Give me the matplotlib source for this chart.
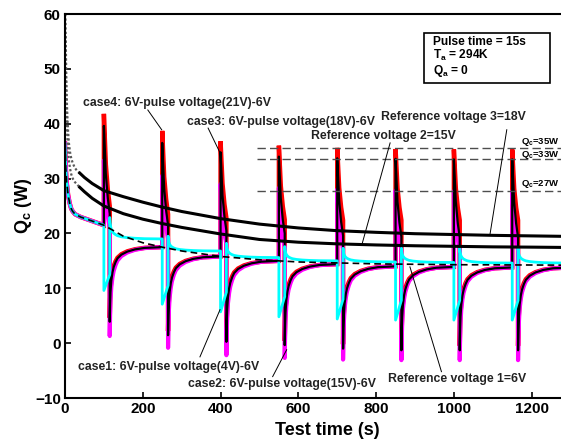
import numpy as np
import matplotlib.pyplot as plt
from matplotlib.patches import Rectangle

plt.rcParams['font.family'] = ['Liberation Sans', 'DejaVu Sans']
plt.rcParams['font.weight'] = 'bold'
plt.rcParams['mathtext.fontset'] = 'custom'
plt.rcParams['mathtext.rm'] = 'Liberation Sans:bold'
plt.rcParams['mathtext.it'] = 'Liberation Sans:bold'
plt.rcParams['mathtext.bf'] = 'Liberation Sans:bold'

# ---- data ----
pulse_t = [100, 250, 400, 550, 700, 850, 1000, 1150]
pulse_len = 15
t_end = 1350

# reference voltage 3 = 18V (upper black) and 2 = 15V (lower black)
ref_t = [1, 2, 3, 4, 5, 6, 8, 10, 13, 16, 20, 25, 30, 38, 50, 70, 100, 150, 200,
         250, 300, 400, 500, 600, 700, 800, 900, 1000, 1100, 1200, 1350]
ref3_q = [60, 55, 50, 46.5, 43.5, 41.5, 38.5, 36.5, 34.8, 33.7, 32.8, 32.0, 31.5, 31.0,
          30.2, 29.1, 27.8, 26.7, 25.7, 24.8, 24.0, 22.7, 21.7, 21.0, 20.5, 20.2, 19.95,
          19.8, 19.65, 19.55, 19.4]
ref2_q = [56, 50, 45, 42, 39.5, 37.5, 35, 33.3, 31.8, 30.8, 30.0, 29.4, 29.0, 28.4,
          27.6, 26.4, 25.0, 23.6, 22.6, 21.8, 21.1, 19.9, 18.9, 18.4, 18.1, 17.9, 17.75,
          17.65, 17.55, 17.5, 17.4]

# reference voltage 1 = 6V (dashed)
ref1_t = [0, 2, 4, 8, 12, 16, 20, 26, 40, 64, 100, 150, 200, 250, 300, 400, 500,
          600, 800, 1000, 1350]
ref1_q = [36.4, 32, 29.5, 27, 25.5, 24.5, 24, 23.5, 23, 22.4, 21.5, 19.5, 18.3, 17.5,
          16.8, 15.8, 15.2, 14.8, 14.45, 14.3, 14.2]

# before the first pulse every case follows the 6V curve
init_t = [0, 2, 4, 8, 12, 16, 20, 26, 40, 64, 100]
init_q = [36.4, 32, 29.5, 27, 25.5, 24.5, 24, 23.5, 23, 22.4, 21.5]

# level the cases settle to after each pulse
level_up = [17.5, 15.8, 15.0, 14.4, 14.0, 13.9, 13.8, 13.8]
level_c1 = [19.0, 16.8, 15.6, 15.0, 14.8, 14.7, 14.6, 14.6]

# case4: 21V pulse (red)
case4_peak = [41.8, 38.7, 36.8, 36.0, 35.6, 35.4, 35.3, 35.3]
case4_end = [25.0, 23.5, 22.8, 22.5, 22.4, 22.4, 22.4, 22.4]
case4_dip = [4.6, 2.2, 1.0, 0.4, -0.2, -0.5, -0.5, -0.5]
# case3: 18V pulse (black)
case3_peak = [39.6, 36.5, 34.8, 34.0, 33.7, 33.6, 33.5, 33.5]
case3_end = [23.6, 21.5, 20.5, 20.0, 19.6, 19.4, 19.3, 19.3]
case3_dip = [3.9, 1.45, 0.24, -0.36, -1.0, -1.3, -1.3, -1.3]
# case2: 15V pulse (magenta)
case2_peak = [33.3, 30.5, 29.0, 28.3, 28.0, 27.8, 27.7, 27.7]
case2_end = [21.0, 19.0, 18.0, 17.5, 17.2, 17.0, 17.0, 17.0]
case2_dip = [1.3, -0.85, -2.2, -2.7, -3.0, -3.1, -3.1, -3.1]
# case1: 4V pulse (cyan)
case1_low = [9.6, 7.1, 5.7, 4.8, 4.4, 4.2, 4.2, 4.2]
case1_end = [12.5, 10.5, 9.3, 8.5, 8.0, 7.8, 7.8, 7.8]
case1_peak = [22.9, 19.5, 18.2, 17.6, 17.3, 17.3, 17.3, 17.3]

# shape inside the pulse and of the recovery after it (fraction of the way)
spike_dt = [0, 5, 10, 15]
spike_frac = [0, 0.55, 0.82, 1.0]
rec_dt = [0, 1, 2, 4, 7, 10, 15, 20, 30, 45, 65, 90, 135]
rec_frac = [0, 0.25, 0.4, 0.55, 0.66, 0.73, 0.8, 0.85, 0.9, 0.94, 0.97, 0.99, 1.0]

qc_levels = [35.5, 33.5, 27.7]
qc_labels = ['Q$_c$=35W', 'Q$_c$=33W', 'Q$_c$=27W']


def build_up(peaks, ends, dips, levels):
    t, q = list(init_t), list(init_q)
    for k, tp in enumerate(pulse_t):
        for dt, f in zip(spike_dt, spike_frac):
            t.append(tp + dt)
            q.append(peaks[k] + (ends[k] - peaks[k]) * f)
        te = tp + pulse_len
        nxt = pulse_t[k + 1] if k + 1 < len(pulse_t) else t_end
        for dt, f in zip(rec_dt, rec_frac):
            t.append(min(te + dt, nxt))
            q.append(dips[k] + (levels[k] - dips[k]) * f)
        if nxt == t_end:
            t.append(t_end)
            q.append(levels[k])
    return t, q


def build_down(lows, ends, peaks, levels):
    t, q = list(init_t), list(init_q)
    for k, tp in enumerate(pulse_t):
        t += [tp, tp + pulse_len]
        q += [lows[k], ends[k]]
        te = tp + pulse_len
        nxt = pulse_t[k + 1] if k + 1 < len(pulse_t) else t_end
        for dt, f in zip(rec_dt, rec_frac):
            t.append(min(te + dt, nxt))
            q.append(peaks[k] + (levels[k] - peaks[k]) * f)
        if nxt == t_end:
            t.append(t_end)
            q.append(levels[k])
    return t, q


W, H = 561, 441
fig = plt.figure(figsize=(W / 100, H / 100), dpi=100)
ax = fig.add_axes([65 / W, 43 / H, 525 / W, 384 / H])

t4, q4 = build_up(case4_peak, case4_end, case4_dip, level_up)
t3, q3 = build_up(case3_peak, case3_end, case3_dip, level_up)
t2, q2 = build_up(case2_peak, case2_end, case2_dip, level_up)
t1, q1 = build_down(case1_low, case1_end, case1_peak, level_c1)

ax.plot(t4, q4, color='#ff0000', lw=3.2, solid_joinstyle='miter')
ax.plot(t2, q2, color='#ff00ff', lw=3.0)
ax.plot(t3, q3, color='black', lw=1.6)
ax.plot(t1, q1, color='#00ffff', lw=2.0)
ax.plot(ref1_t, ref1_q, color='black', lw=1.2, ls=(0, (4, 2.5)))

# reference 15V / 18V: dotted-looking start, then solid
n0 = 13
for q in (ref3_q, ref2_q):
    ax.plot(ref_t[:n0 + 1], q[:n0 + 1], color='0.35', lw=1.6, ls=(0, (1, 1)))
    ax.plot(ref_t[n0:], q[n0:], color='black', lw=2.2)

for lev, lab in zip(qc_levels, qc_labels):
    ax.plot([494, t_end], [lev, lev], color='0.3', lw=1.0, ls=(0, (6, 3)))
ax.text(1272, 36.6, qc_labels[0], fontsize=6.8, ha='right', va='center')
ax.text(1272, 34.3, qc_labels[1], fontsize=6.8, ha='right', va='center')
ax.text(1272, 29.0, qc_labels[2], fontsize=6.8, ha='right', va='center')

# annotations
notes = [
    ('case4: 6V-pulse voltage(21V)-6V', (46, 43.8), (213, 42.5), (248.6, 38.9)),
    ('case3: 6V-pulse voltage(18V)-6V', (314, 40.3), (368, 39.2), (398.6, 34.7)),
    ('Reference voltage 2=15V', (632, 37.8), (836, 36.5), (764, 18.1)),
    ('Reference voltage 3=18V', (812, 41.2), (1136, 38.9), (1093, 19.9)),
    ('case1: 6V-pulse voltage(4V)-6V', (33, -4.3), (347, -2.5), (398.6, 6.1)),
    ('case2: 6V-pulse voltage(15V)-6V', (316, -7.4), (534, -6.1), (570, -1.2)),
    ('Reference voltage 1=6V', (830, -6.5), (968, -5.2), (887, 13.9)),
]
for txt, pos, a, b in notes:
    ax.text(pos[0], pos[1], txt, fontsize=8.8, ha='left', va='center', color='#222222')
    ax.plot([a[0], b[0]], [a[1], b[1]], color='black', lw=0.7)

ax.set_xlim(0, t_end)
ax.set_ylim(-10, 60)
ax.set_xticks(np.arange(0, 1201, 200))
ax.set_yticks(np.arange(-10, 61, 10))
ax.tick_params(direction='in', length=4, width=1.2, labelsize=11, pad=3)
for lab in ax.get_xticklabels() + ax.get_yticklabels():
    lab.set_fontweight('bold')
for s in ax.spines.values():
    s.set_linewidth(1.5)
ax.set_xlabel('Test time (s)', fontsize=13, fontweight='bold', labelpad=4)
ax.set_ylabel('Q$_c$ (W)', fontsize=13, fontweight='bold', labelpad=1)

# info box
fig.patches.append(Rectangle((424 / W, 1 - 83 / H), 126 / W, 50 / H,
                             transform=fig.transFigure, fill=False, ec='black', lw=1.2))
fig.text(433 / W, 1 - 42 / H, 'Pulse time = 15s', fontsize=8.6, va='center')
fig.text(433 / W, 1 - 55 / H, 'T$_a$ = 294K', fontsize=8.6, va='center')
fig.text(433 / W, 1 - 71 / H, 'Q$_a$ = 0', fontsize=8.6, va='center')

fig.savefig('out.png', dpi=100)
